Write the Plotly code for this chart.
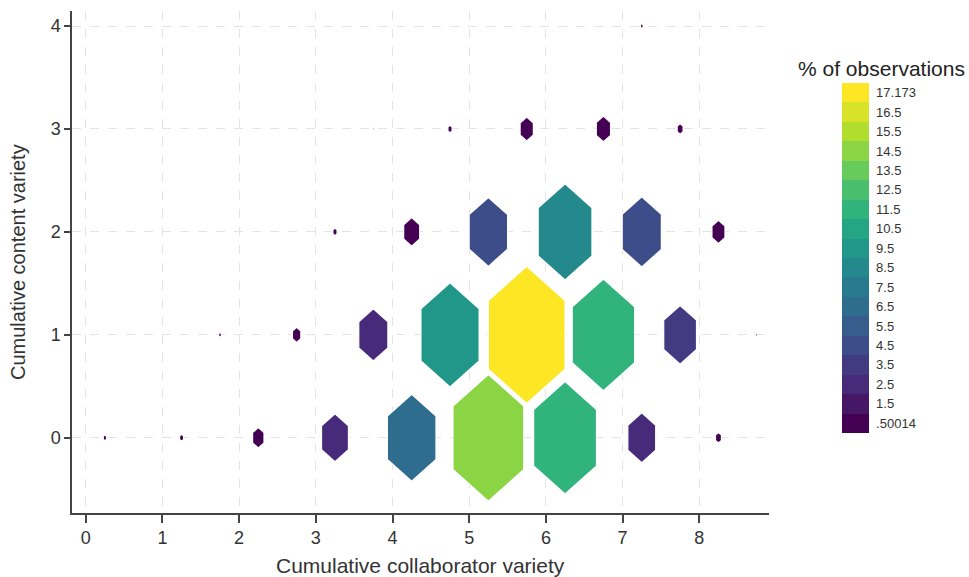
import plotly.graph_objects as go
from plotly.colors import sample_colorscale

# Hexagon bin centres (collaborator variety, content variety) and share of observations (%)
hex_x = [0.25, 1.25, 2.25, 3.25, 4.25, 5.25, 6.25, 7.25, 8.25,
         1.75, 2.75, 3.75, 4.75, 5.75, 6.75, 7.75, 8.75,
         3.25, 4.25, 5.25, 6.25, 7.25, 8.25,
         3.75, 4.75, 5.75, 6.75, 7.75,
         7.25]
hex_y = [0, 0, 0, 0, 0, 0, 0, 0, 0,
         1, 1, 1, 1, 1, 1, 1, 1,
         2, 2, 2, 2, 2, 2,
         3, 3, 3, 3, 3,
         4]
pct = [0.53, 0.545, 0.87, 2.55, 7.2, 14.7, 11.7, 2.7, 0.6,
       0.52, 0.70, 2.9, 10.1, 17.173, 11.55, 3.55, 0.51,
       0.55, 1.23, 4.7, 8.7, 4.85, 0.98,
       0.505, 0.55, 1.0, 1.08, 0.6,
       0.52]

# Colour levels: each legend key starts at its cut value
level_cuts = [0.50014] + [k + 0.5 for k in range(1, 17)] + [17.173]
level_labels = [".50014"] + [f"{k + 0.5:g}" for k in range(1, 17)] + ["17.173"]

x_ticks = list(range(0, 9))
y_ticks = list(range(0, 5))

n_levels = len(level_cuts)
level_colors = sample_colorscale("Viridis", [k / (n_levels - 1) for k in range(n_levels)])

vmin, vmax = level_cuts[0], level_cuts[-1]
FONT = "Liberation Sans, Arial, sans-serif"


def level_of(v):
    k = 0
    for i, c in enumerate(level_cuts):
        if v >= c - 1e-9:
            k = i
    return k


def hexagon(cx, cy, s):
    # pointy-top hexagon on a grid with unit column spacing and unit row spacing
    w, h1, h2 = 0.5 * s, s / 3.0, 2.0 * s / 3.0
    xs = [cx, cx + w, cx + w, cx, cx - w, cx - w, cx]
    ys = [cy + h2, cy + h1, cy - h1, cy - h2, cy - h1, cy + h1, cy + h2]
    return xs, ys


fig = go.Figure()

for cx, cy, v in zip(hex_x, hex_y, pct):
    # hexagon area grows with the share of observations
    s = ((v - vmin) / (vmax - vmin)) ** 0.5
    s = max(s, 0.02)
    xs, ys = hexagon(cx, cy, s)
    col = level_colors[level_of(v)]
    fig.add_trace(go.Scatter(
        x=xs, y=ys, mode="lines", fill="toself",
        fillcolor=col, line=dict(color="white", width=1.2),
        hoverinfo="text", text=f"{v:g}%", showlegend=False))

# Discrete colour key
cscale = []
for k, c in enumerate(level_colors):
    cscale.append([k / n_levels, c])
    cscale.append([(k + 1) / n_levels, c])

fig.add_trace(go.Scatter(
    x=hex_x, y=hex_y, mode="markers", hoverinfo="skip", showlegend=False,
    marker=dict(
        size=1, opacity=0,
        color=[level_of(v) + 0.5 for v in pct],
        colorscale=cscale, cmin=0, cmax=n_levels,
        colorbar=dict(
            x=1.1047, xanchor="left", xpad=0,
            y=0.508, yanchor="middle", ypad=0,
            lenmode="pixels", len=350,
            thicknessmode="pixels", thickness=27,
            outlinewidth=0,
            tickmode="array",
            tickvals=[k + 0.5 for k in range(n_levels)],
            ticktext=level_labels,
            ticks="outside", ticklen=5, tickcolor="rgba(0,0,0,0)",
            tickfont=dict(family=FONT, size=13, color="#333333"),
        ),
    ),
))

fig.add_annotation(
    text="% of observations", x=1.1607, y=0.886, xref="paper", yref="paper",
    xanchor="center", yanchor="middle", showarrow=False,
    font=dict(family=FONT, size=21, color="#222222"))

# Axis titles
fig.add_annotation(
    text="Cumulative collaborator variety", x=0.5, y=-0.1036, xref="paper", yref="paper",
    xanchor="center", yanchor="middle", showarrow=False,
    font=dict(family=FONT, size=21, color="#333333"))
fig.add_annotation(
    text="Cumulative content variety", x=-0.0775, y=0.5, xref="paper", yref="paper",
    xanchor="center", yanchor="middle", showarrow=False, textangle=-90,
    font=dict(family=FONT, size=20, color="#333333"))

grid = dict(showgrid=True, gridcolor="#e4e4e4", gridwidth=1, griddash="dash", zeroline=False)

fig.update_xaxes(
    range=[-0.179, 8.909], tickmode="array", tickvals=x_ticks,
    ticktext=[str(t) for t in x_ticks], automargin=False,
    showline=True, linecolor="#444444", linewidth=1.5,
    ticks="outside", ticklen=8, tickcolor="#444444", tickwidth=1.5,
    tickfont=dict(size=18, color="#333333"),
    **grid)
fig.update_yaxes(
    range=[-0.731, 4.146], tickmode="array", tickvals=y_ticks,
    ticktext=[str(t) for t in y_ticks], automargin=False,
    showline=True, linecolor="#444444", linewidth=1.5,
    ticks="outside", ticklen=6, tickcolor="#444444", tickwidth=1.5,
    tickfont=dict(size=18, color="#333333"),
    **grid)

fig.update_layout(
    width=969, height=577,
    margin=dict(l=72, r=200, t=11, b=64, autoexpand=False),
    paper_bgcolor="white", plot_bgcolor="white",
    font=dict(family=FONT, color="#333333"),
    showlegend=False,
)

fig.write_html("out.html")
